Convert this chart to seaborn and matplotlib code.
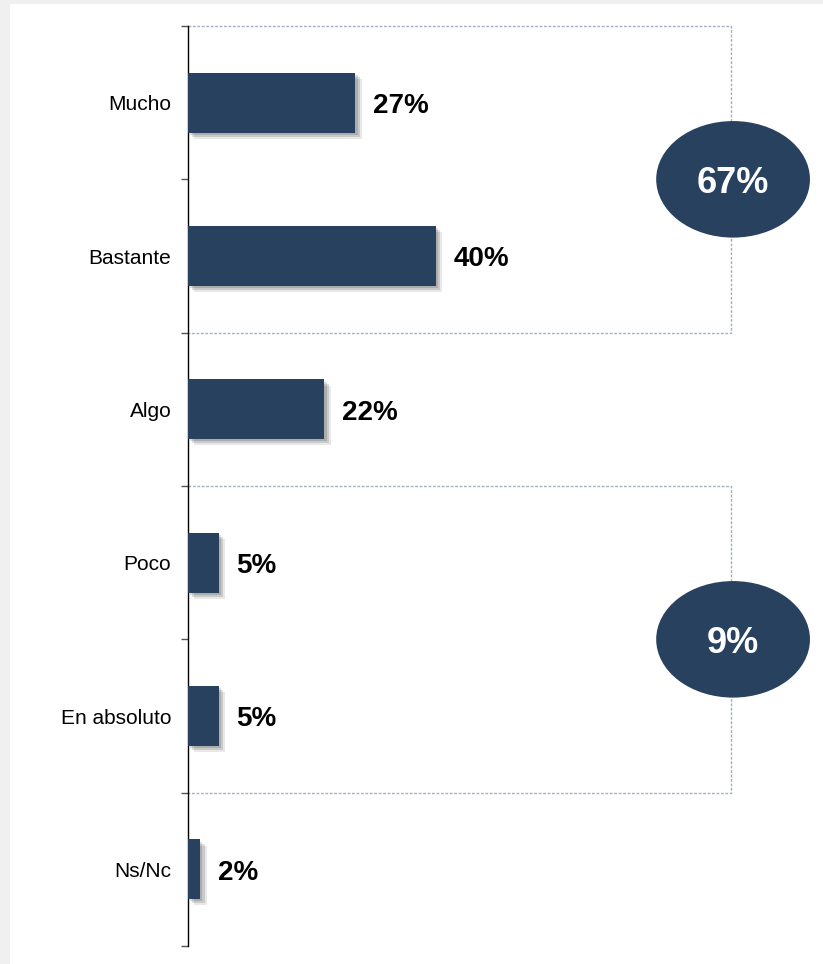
## IMPORTING LIBRARIES AND SETTING PARAMETERS
import seaborn as sns
import pandas as pd
from matplotlib import pyplot as plt
from matplotlib import patheffects as pe
from matplotlib.patches import Ellipse, Rectangle

sns.set_style('white')
plt.rcParams['font.family'] = ['Liberation Sans', 'DejaVu Sans']

## DATA
categories = ["Mucho", "Bastante", "Algo", "Poco", "En absoluto", "Ns/Nc"]
values = [27, 40, 22, 5, 5, 2]
group_labels = ["67%", "9%"]
group_spans = [(0, 1), (3, 4)]   # first and last category of each group

navy = "#27415f"
box_col = "#a3aec4"

df = pd.DataFrame({"cat": categories, "val": values})

fig = plt.figure(figsize=(8.23, 9.64), dpi=100)
fig.patch.set_facecolor("#f0f0f0")
fig.patches.append(Rectangle((10 / 823, 0), 1, 1 - 4 / 964, transform=fig.transFigure,
                             facecolor="white", edgecolor="none", zorder=-10))
ax = fig.add_axes([188 / 823, 18 / 964, 635 / 823, 920 / 964])
ax.set_facecolor("none")

sns.barplot(data=df, x="val", y="cat", color=navy, width=0.39, saturation=1, ax=ax, zorder=3)
shadow = [pe.SimplePatchShadow(offset=(1.5, -1.5), shadow_rgbFace="black", alpha=0.14),
          pe.SimplePatchShadow(offset=(3, -3), shadow_rgbFace="black", alpha=0.13),
          pe.SimplePatchShadow(offset=(4.5, -4.5), shadow_rgbFace="black", alpha=0.09),
          pe.Normal()]
for p in ax.patches:
    p.set_path_effects(shadow)
    p.set_edgecolor("none")

## value labels
for i, v in enumerate(values):
    ax.annotate(f"{v}%", (v, i), xytext=(12.5, -2.5), textcoords="offset points",
                ha="left", va="center", fontsize=20, fontweight="bold", color="black")

ax.set_xlim(0, 102.4)
ax.set_ylim(5.5, -0.5)

## dotted group boxes with ellipses
box_right = 87.6
for (a, b), lab in zip(group_spans, group_labels):
    top, bot = a - 0.5, b + 0.5
    ax.plot([0, box_right, box_right, 0], [top, top, bot, bot], color=box_col,
            ls=(0, (2, 1.2)), lw=1, zorder=1, clip_on=False)
    mid = (top + bot) / 2
    ax.add_patch(Ellipse((box_right + 0.3, mid), 24.8, 0.76, facecolor=navy,
                         edgecolor="none", zorder=4, clip_on=False))
    ax.annotate(lab, (box_right + 0.3, mid), xytext=(0, -3), textcoords="offset points",
                ha="center", va="center", color="white",
                fontsize=26, fontweight="bold", zorder=5)

## axes styling
for s in ["top", "right", "bottom"]:
    ax.spines[s].set_visible(False)
ax.spines["left"].set_color("black")
ax.spines["left"].set_linewidth(1)
ax.set_xticks([])
ax.set_xlabel("")
ax.set_ylabel("")
ax.tick_params(axis="y", which="major", left=True, length=0, pad=18, labelsize=15,
               labelcolor="black")
ax.set_yticks([i + 0.5 for i in range(-1, 6)], minor=True)
ax.tick_params(axis="y", which="minor", left=True, length=5, width=1, color="#555555")
ax.tick_params(axis="y", which="major", pad=12)

plt.savefig("out.png", dpi=100)
